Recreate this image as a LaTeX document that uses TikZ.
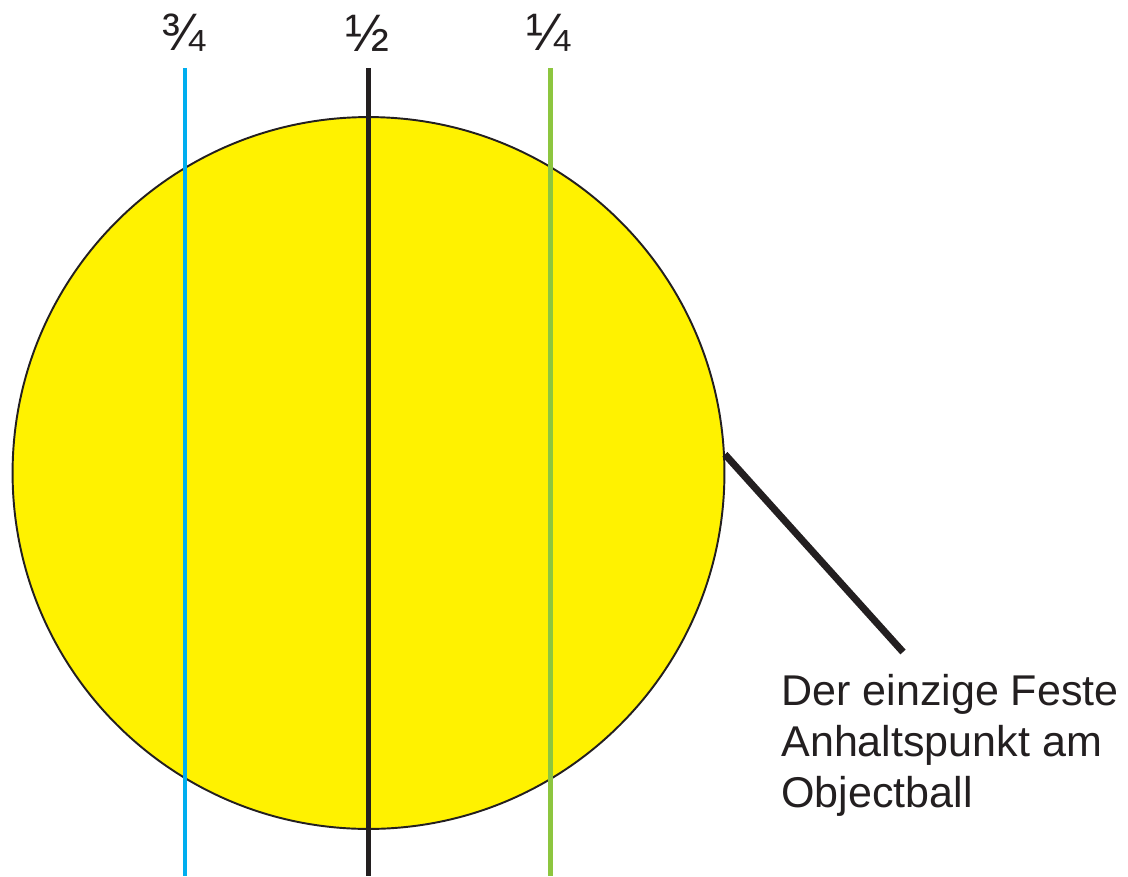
\documentclass[tikz,border=0pt]{standalone}
\usepackage{fontspec}
\setmainfont{Liberation Sans}
\usetikzlibrary{positioning}
\definecolor{ballfill}{HTML}{FFF200}
\definecolor{inkdraw}{HTML}{231F20}
\definecolor{qthree}{HTML}{00AEEF}
\definecolor{qone}{HTML}{8DC63F}
\tikzset{
  ball/.style={circle, draw=inkdraw, fill=ballfill, line width=1.1pt, inner sep=0pt, minimum size=14.24cm},
  frac/.style={font=\fontsize{30}{32}\selectfont, text=inkdraw, inner sep=0pt},
  aimline/.style={line width=2.4pt},
  pointer/.style={draw=inkdraw, line width=4pt},
  note/.style={font=\fontsize{24.5}{29}\selectfont, text=inkdraw, align=left, inner sep=0pt},
}
\begin{document}
\begin{tikzpicture}[x=0.02cm, y=-0.02cm]
  \useasboundingbox (0,0) rectangle (1128,876);
  % the object ball
  \node[ball] (ball) at (368.5,473) {};
  % aiming lines with fractions
  \foreach \name/\px/\lbl/\col in {q3/183/¾/qthree, q2/367/½/inkdraw, q1/548.5/¼/qone} {
    \node[frac] (\name) at (\px,33) {\lbl};
  }
  \foreach \name/\px/\col in {q3/185/qthree, q2/368.5/inkdraw, q1/550.5/qone} {
    \coordinate (\name top) at (\px,68);
    \coordinate (\name bot) at (\px,876);
    \draw[aimline, draw=\col] (\name top) -- (\name bot);
  }
  % pointer and note
  \node[note, anchor=north west] (note) at (781,674) {Der einzige Feste\\Anhaltspunkt am\\Objectball};
  \coordinate (tip) at (903,652);
  \draw[pointer] (ball.3) -- (tip);
\end{tikzpicture}
\end{document}
